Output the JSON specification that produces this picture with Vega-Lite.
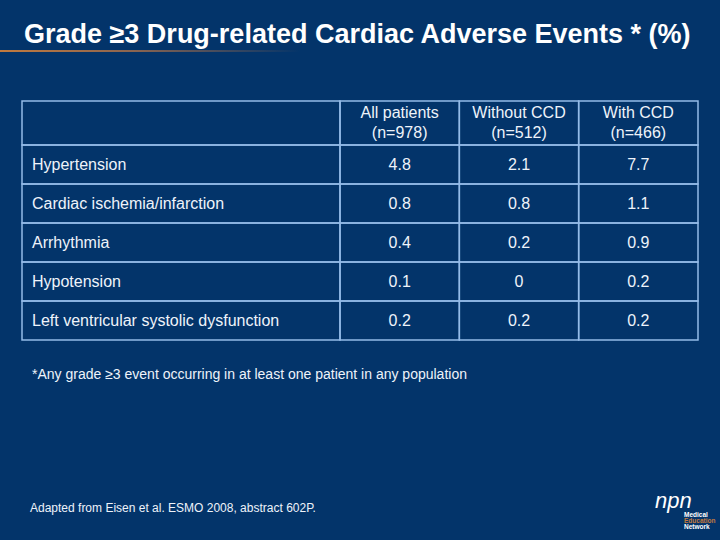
{
  "$schema": "https://vega.github.io/schema/vega-lite/v6.json",
  "width": 720,
  "height": 480,
  "autosize": {"type": "none"},
  "padding": {"top": 60, "left": 0, "right": 0, "bottom": 0},
  "background": "#03346A",
  "title": {
    "text": "Grade ≥3 Drug-related Cardiac Adverse Events * (%)",
    "anchor": "start",
    "dx": 24,
    "font": "Liberation Sans",
    "fontSize": 27,
    "fontWeight": "bold",
    "color": "#FFFFFF",
    "baseline": "alphabetic",
    "offset": -20
  },
  "config": {
    "view": {"stroke": null},
    "axis": {"disable": true},
    "legend": {"disable": true},
    "text": {"font": "Liberation Sans", "color": "#EEF3FA", "fontSize": 16}
  },
  "datasets": {
    "events": [
      {"event": "Hypertension", "all": 4.8, "without": 2.1, "with": 7.7},
      {"event": "Cardiac ischemia/infarction", "all": 0.8, "without": 0.8, "with": 1.1},
      {"event": "Arrhythmia", "all": 0.4, "without": 0.2, "with": 0.9},
      {"event": "Hypotension", "all": 0.1, "without": 0, "with": 0.2},
      {"event": "Left ventricular systolic dysfunction", "all": 0.2, "without": 0.2, "with": 0.2}
    ],
    "columns": [
      {"key": "all", "label": "All patients\n(n=978)"},
      {"key": "without", "label": "Without CCD\n(n=512)"},
      {"key": "with", "label": "With CCD\n(n=466)"}
    ],
    "notes": [
      {"kind": "footnote", "note": "*Any grade ≥3 event occurring in at least one patient in any population"},
      {"kind": "source", "note": "Adapted from Eisen et al. ESMO 2008, abstract 602P."}
    ],
    "logo": [
      {"word": "Medical"},
      {"word": "Education"},
      {"word": "Network"}
    ]
  },
  "resolve": {"scale": {"x": "independent", "y": "independent", "size": "independent", "color": "independent"}},
  "layer": [
    {
      "data": {"name": "events"},
      "layer": [
        {
          "mark": {"type": "rect", "fill": "transparent", "stroke": "#94BBE8", "strokeWidth": 1.5},
          "encoding": {
            "x": {"datum": "Adverse event", "type": "nominal", "scale": {"type": "band", "domain": ["Adverse event"], "range": [22, 340], "paddingInner": 0, "paddingOuter": 0}},
            "y": {"field": "event", "type": "nominal", "sort": null, "scale": {"type": "band", "domain": ["Hypertension", "Cardiac ischemia/infarction", "Arrhythmia", "Hypotension", "Left ventricular systolic dysfunction"], "range": [85, 280], "paddingInner": 0, "paddingOuter": 0}}
          }
        },
        {
          "mark": {"type": "text", "align": "left", "baseline": "middle", "dx": 10},
          "encoding": {
            "x": {"datum": "Adverse event", "type": "nominal", "bandPosition": 0, "scale": {"type": "band", "domain": ["Adverse event"], "range": [22, 340], "paddingInner": 0, "paddingOuter": 0}},
            "y": {"field": "event", "type": "nominal", "sort": null, "scale": {"type": "band", "domain": ["Hypertension", "Cardiac ischemia/infarction", "Arrhythmia", "Hypotension", "Left ventricular systolic dysfunction"], "range": [85, 280], "paddingInner": 0, "paddingOuter": 0}},
            "text": {"field": "event", "type": "nominal"}
          }
        }
      ]
    },
    {
      "data": {"name": "events"},
      "transform": [{"fold": ["all", "without", "with"], "as": ["key", "value"]}],
      "encoding": {
        "x": {"field": "key", "type": "nominal", "sort": null, "scale": {"type": "band", "domain": ["all", "without", "with"], "range": [340, 698], "paddingInner": 0, "paddingOuter": 0}},
        "y": {"field": "event", "type": "nominal", "sort": null, "scale": {"type": "band", "domain": ["Hypertension", "Cardiac ischemia/infarction", "Arrhythmia", "Hypotension", "Left ventricular systolic dysfunction"], "range": [85, 280], "paddingInner": 0, "paddingOuter": 0}}
      },
      "layer": [
        {"mark": {"type": "rect", "fill": "transparent", "stroke": "#94BBE8", "strokeWidth": 1.5}},
        {
          "mark": {"type": "text", "align": "center", "baseline": "middle"},
          "encoding": {"text": {"field": "value", "type": "quantitative", "format": ".1~f"}}
        }
      ]
    },
    {
      "data": {"name": "columns"},
      "encoding": {
        "x": {"field": "key", "type": "nominal", "sort": null, "scale": {"type": "band", "domain": ["all", "without", "with"], "range": [340, 698], "paddingInner": 0, "paddingOuter": 0}},
        "y": {"datum": "header", "type": "nominal", "scale": {"type": "band", "domain": ["header"], "range": [41, 85], "paddingInner": 0, "paddingOuter": 0}}
      },
      "layer": [
        {"mark": {"type": "rect", "fill": "transparent", "stroke": "#94BBE8", "strokeWidth": 1.5}},
        {
          "mark": {"type": "text", "align": "center", "baseline": "middle", "lineBreak": "\n", "lineHeight": 20, "dy": -10},
          "encoding": {"text": {"field": "label", "type": "nominal"}}
        }
      ]
    },
    {
      "data": {"values": [{"cell": "header"}]},
      "mark": {"type": "rect", "fill": "transparent", "stroke": "#94BBE8", "strokeWidth": 1.5},
      "encoding": {
        "x": {"datum": "Adverse event", "type": "nominal", "scale": {"type": "band", "domain": ["Adverse event"], "range": [22, 340], "paddingInner": 0, "paddingOuter": 0}},
        "y": {"field": "cell", "type": "nominal", "scale": {"type": "band", "domain": ["header"], "range": [41, 85], "paddingInner": 0, "paddingOuter": 0}}
      }
    },
    {
      "data": {"name": "notes"},
      "mark": {"type": "text", "align": "left", "baseline": "middle"},
      "encoding": {
        "x": {"field": "kind", "type": "nominal", "sort": null, "scale": {"type": "point", "domain": ["footnote", "source"], "range": [32, 30], "padding": 0}},
        "y": {"field": "kind", "type": "nominal", "sort": null, "scale": {"type": "point", "domain": ["footnote", "source"], "range": [315, 448], "padding": 0}},
        "size": {"field": "kind", "type": "nominal", "scale": {"domain": ["footnote", "source"], "range": [14, 12]}},
        "text": {"field": "note", "type": "nominal"}
      }
    },
    {
      "data": {"values": [{"part": "underline"}]},
      "mark": {
        "type": "rect",
        "fill": {
          "gradient": "linear",
          "x1": 0, "y1": 0, "x2": 1, "y2": 0,
          "stops": [
            {"offset": 0, "color": "#C27A3E"},
            {"offset": 0.45, "color": "#8A6450"},
            {"offset": 1, "color": "#03346A"}
          ]
        }
      },
      "encoding": {
        "x": {"value": 0},
        "x2": {"value": 300},
        "y": {"value": -10},
        "y2": {"value": -8}
      }
    },
    {
      "data": {"values": [{"part": "npn"}]},
      "mark": {"type": "text", "align": "left", "baseline": "alphabetic", "font": "Liberation Sans", "fontStyle": "italic", "fontSize": 22, "color": "#FFFFFF"},
      "encoding": {
        "x": {"value": 655},
        "y": {"value": 448},
        "text": {"field": "part", "type": "nominal"}
      }
    },
    {
      "data": {"name": "logo"},
      "mark": {"type": "text", "align": "left", "baseline": "middle", "fontSize": 6.5, "fontWeight": "bold", "font": "Liberation Sans"},
      "encoding": {
        "x": {"value": 684},
        "y": {"field": "word", "type": "nominal", "sort": null, "scale": {"type": "point", "domain": ["Medical", "Education", "Network"], "range": [455, 467], "padding": 0}},
        "color": {"field": "word", "type": "nominal", "scale": {"domain": ["Medical", "Education", "Network"], "range": ["#FFFFFF", "#C27A3E", "#FFFFFF"]}},
        "text": {"field": "word", "type": "nominal"}
      }
    }
  ]
}
